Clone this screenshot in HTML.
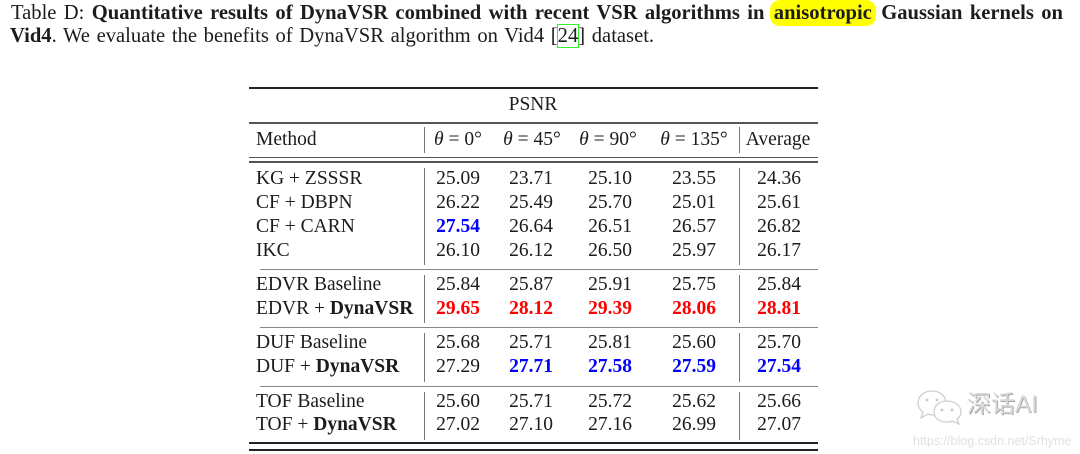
<!DOCTYPE html>
<html><head><meta charset="utf-8">
<style>
html,body{margin:0;padding:0;background:#fff;}
body{width:1080px;height:454px;position:relative;overflow:hidden;font-family:"Liberation Serif","Noto Serif CJK SC",serif;font-size:19.5px;color:#1c1c1c;}
.c{position:absolute;width:100px;text-align:center;line-height:24px;height:24px;white-space:nowrap;}
.m{position:absolute;left:256px;line-height:24px;height:24px;white-space:nowrap;}
.r{color:#ff0000;font-weight:bold;}
.b{color:#0000ff;font-weight:bold;}
.hl{position:absolute;background:#000;}
.vl{position:absolute;width:1.3px;background:#777;}
.cap1{position:absolute;left:11px;top:0.5px;width:1052px;line-height:24px;text-align:justify;text-align-last:justify;font-size:20.6px;}
.cap2{position:absolute;left:10px;top:24px;line-height:24px;white-space:nowrap;font-size:20.6px;word-spacing:1.5px;}
.hy{background:#ffff00;border-radius:10px;padding:2px 4px;margin:0 -2px;}
.gb{outline:1px solid #33ee33;outline-offset:0px;}
i{font-style:italic;}
</style></head><body>

<div class="cap1">Table D: <b>Quantitative results of DynaVSR combined with recent VSR algorithms in <span class="hy">anisotropic</span> Gaussian kernels on</b></div>
<div class="cap2"><b>Vid4</b>. We evaluate the benefits of DynaVSR algorithm on Vid4 [<span class="gb">24</span>] dataset.</div>

<!-- rules -->
<div class="hl" style="left:249px;top:87px;width:569px;height:2px;background:#222;"></div>
<div class="hl" style="left:249px;top:122px;width:569px;height:1.5px;background:#555;"></div>
<div class="hl" style="left:249px;top:156.5px;width:569px;height:1.5px;background:#555;"></div>
<div class="hl" style="left:249px;top:161px;width:569px;height:1.5px;background:#555;"></div>
<div class="hl" style="left:260px;top:268.5px;width:558px;height:1.3px;background:#888;"></div>
<div class="hl" style="left:260px;top:326.5px;width:558px;height:1.3px;background:#888;"></div>
<div class="hl" style="left:260px;top:385.5px;width:558px;height:1.3px;background:#888;"></div>
<div class="hl" style="left:249px;top:442px;width:569px;height:2px;background:#222;"></div>
<div class="hl" style="left:249px;top:449px;width:569px;height:2px;background:#222;"></div>

<!-- vertical bars -->
<div class="vl" style="left:423.5px;top:127px;height:26px;"></div>
<div class="vl" style="left:738.5px;top:127px;height:26px;"></div>
<div class="vl" style="left:423.5px;top:168px;height:97px;"></div>
<div class="vl" style="left:738.5px;top:168px;height:97px;"></div>
<div class="vl" style="left:423.5px;top:275px;height:48px;"></div>
<div class="vl" style="left:738.5px;top:275px;height:48px;"></div>
<div class="vl" style="left:423.5px;top:333px;height:49px;"></div>
<div class="vl" style="left:738.5px;top:333px;height:49px;"></div>
<div class="vl" style="left:423.5px;top:392px;height:48px;"></div>
<div class="vl" style="left:738.5px;top:392px;height:48px;"></div>

<!-- header -->
<div class="c" style="left:483px;top:93px;">PSNR</div>
<div class="m" style="top:128px;">Method</div>
<div class="c" style="left:408px;top:128px;"><i>θ</i> = 0°</div>
<div class="c" style="left:482px;top:128px;"><i>θ</i> = 45°</div>
<div class="c" style="left:558px;top:128px;"><i>θ</i> = 90°</div>
<div class="c" style="left:644px;top:128px;"><i>θ</i> = 135°</div>
<div class="c" style="left:728px;top:128px;">Average</div>

<!-- group 1 -->
<div class="m" style="top:167px;">KG + ZSSSR</div>
<div class="c" style="left:408px;top:167px;">25.09</div>
<div class="c" style="left:481px;top:167px;">23.71</div>
<div class="c" style="left:560px;top:167px;">25.10</div>
<div class="c" style="left:644px;top:167px;">23.55</div>
<div class="c" style="left:729px;top:167px;">24.36</div>

<div class="m" style="top:191px;">CF + DBPN</div>
<div class="c" style="left:408px;top:191px;">26.22</div>
<div class="c" style="left:481px;top:191px;">25.49</div>
<div class="c" style="left:560px;top:191px;">25.70</div>
<div class="c" style="left:644px;top:191px;">25.01</div>
<div class="c" style="left:729px;top:191px;">25.61</div>

<div class="m" style="top:215px;">CF + CARN</div>
<div class="c b" style="left:408px;top:215px;">27.54</div>
<div class="c" style="left:481px;top:215px;">26.64</div>
<div class="c" style="left:560px;top:215px;">26.51</div>
<div class="c" style="left:644px;top:215px;">26.57</div>
<div class="c" style="left:729px;top:215px;">26.82</div>

<div class="m" style="top:239px;">IKC</div>
<div class="c" style="left:408px;top:239px;">26.10</div>
<div class="c" style="left:481px;top:239px;">26.12</div>
<div class="c" style="left:560px;top:239px;">26.50</div>
<div class="c" style="left:644px;top:239px;">25.97</div>
<div class="c" style="left:729px;top:239px;">26.17</div>

<!-- EDVR -->
<div class="m" style="top:273px;">EDVR Baseline</div>
<div class="c" style="left:408px;top:273px;">25.84</div>
<div class="c" style="left:481px;top:273px;">25.87</div>
<div class="c" style="left:560px;top:273px;">25.91</div>
<div class="c" style="left:644px;top:273px;">25.75</div>
<div class="c" style="left:729px;top:273px;">25.84</div>

<div class="m" style="top:297px;">EDVR + <b>DynaVSR</b></div>
<div class="c r" style="left:408px;top:297px;">29.65</div>
<div class="c r" style="left:481px;top:297px;">28.12</div>
<div class="c r" style="left:560px;top:297px;">29.39</div>
<div class="c r" style="left:644px;top:297px;">28.06</div>
<div class="c r" style="left:729px;top:297px;">28.81</div>

<!-- DUF -->
<div class="m" style="top:331px;">DUF Baseline</div>
<div class="c" style="left:408px;top:331px;">25.68</div>
<div class="c" style="left:481px;top:331px;">25.71</div>
<div class="c" style="left:560px;top:331px;">25.81</div>
<div class="c" style="left:644px;top:331px;">25.60</div>
<div class="c" style="left:729px;top:331px;">25.70</div>

<div class="m" style="top:355px;">DUF + <b>DynaVSR</b></div>
<div class="c" style="left:408px;top:355px;">27.29</div>
<div class="c b" style="left:481px;top:355px;">27.71</div>
<div class="c b" style="left:560px;top:355px;">27.58</div>
<div class="c b" style="left:644px;top:355px;">27.59</div>
<div class="c b" style="left:729px;top:355px;">27.54</div>

<!-- TOF -->
<div class="m" style="top:390px;">TOF Baseline</div>
<div class="c" style="left:408px;top:390px;">25.60</div>
<div class="c" style="left:481px;top:390px;">25.71</div>
<div class="c" style="left:560px;top:390px;">25.72</div>
<div class="c" style="left:644px;top:390px;">25.62</div>
<div class="c" style="left:729px;top:390px;">25.66</div>

<div class="m" style="top:413px;">TOF + <b>DynaVSR</b></div>
<div class="c" style="left:408px;top:413px;">27.02</div>
<div class="c" style="left:481px;top:413px;">27.10</div>
<div class="c" style="left:560px;top:413px;">27.16</div>
<div class="c" style="left:644px;top:413px;">26.99</div>
<div class="c" style="left:729px;top:413px;">27.07</div>

<!-- watermark -->
<svg style="position:absolute;left:916px;top:388px;" width="50" height="38" viewBox="0 0 50 38">
  <g fill="#fff" stroke="#cfcfcf" stroke-width="1.3">
    <path d="M16 3 C7 3 2 9 2 15 C2 19 4 22 7 24 L5 30 L12 26 C14 27 16 27 18 27 C26 27 30 21 30 15 C30 9 25 3 16 3 Z"/>
    <path d="M31 13 C23 13 18 18 18 24 C18 30 23 34 31 34 C33 34 35 34 36 33 L43 36 L41 31 C44 29 45 27 45 24 C45 18 39 13 31 13 Z"/>
  </g>
  <g fill="#c8c8c8">
    <circle cx="11" cy="12" r="1.4"/><circle cx="21" cy="12" r="1.4"/>
    <circle cx="26" cy="22" r="1.4"/><circle cx="36" cy="22" r="1.4"/>
  </g>
</svg>
<div style="position:absolute;left:967px;top:391px;font-family:'Liberation Sans','Noto Sans CJK SC',sans-serif;font-size:24px;line-height:28px;color:#dadada;text-shadow:1px 1px 0 #a8a8a8;white-space:nowrap;">深话AI</div>
<div style="position:absolute;left:913px;top:433px;font-family:'Liberation Sans',sans-serif;font-size:12.5px;line-height:16px;color:#e0e0e0;white-space:nowrap;">https://blog.csdn.net/Srhyme</div>

</body></html>
